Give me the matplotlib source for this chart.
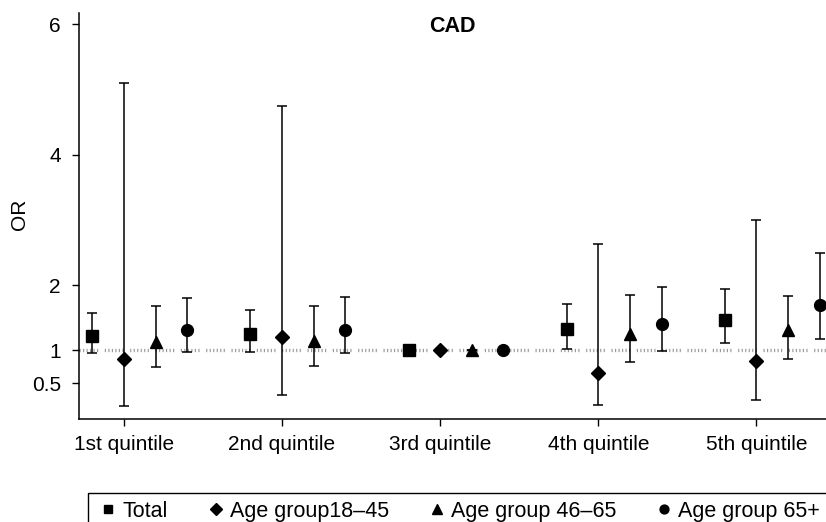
import matplotlib
matplotlib.use("Agg")
import matplotlib.pyplot as plt
import numpy as np
from matplotlib.lines import Line2D

plt.rcParams["font.family"] = ["Liberation Sans", "DejaVu Sans"]

# --- data ---
quintiles = ["1st quintile", "2nd quintile", "3rd quintile", "4th quintile", "5th quintile"]
groups = ["Total", "Age group18\u201345", "Age group 46\u201365", "Age group 65+"]

or_total = [1.22, 1.25, 1.0, 1.33, 1.47]
lo_total = [0.96, 0.98, 1.0, 1.03, 1.11]
hi_total = [1.58, 1.62, 1.0, 1.71, 1.94]

or_young = [0.87, 1.20, 1.0, 0.65, 0.84]
lo_young = [0.15, 0.32, 1.0, 0.17, 0.24]
hi_young = [5.10, 4.75, 1.0, 2.63, 3.00]

or_mid = [1.13, 1.14, 1.0, 1.25, 1.32]
lo_mid = [0.74, 0.76, 1.0, 0.82, 0.87]
hi_mid = [1.68, 1.68, 1.0, 1.85, 1.84]

or_old = [1.32, 1.32, 1.0, 1.40, 1.70]
lo_old = [0.97, 0.96, 1.0, 0.99, 1.18]
hi_old = [1.80, 1.82, 1.0, 1.97, 2.49]

series = [
    (or_total, lo_total, hi_total, "s", 8, -0.2),
    (or_young, lo_young, hi_young, "D", 7.5, 0.0),
    (or_mid, lo_mid, hi_mid, "^", 9, 0.2),
    (or_old, lo_old, hi_old, "o", 8.5, 0.4),
]

fig = plt.figure(figsize=(8.26, 5.22), dpi=100)
ax = fig.add_axes([79 / 826, 1 - 419 / 522, 1 - 79 / 826, (419 - 13) / 522])

x = np.arange(1, len(quintiles) + 1)

# reference line at OR = 1 (grouped fine dots, like the original)
dots = (0.35, 0.7) * 6
ax.axhline(1, color="#999999", linewidth=2.4,
           linestyle=(0, dots[:-1] + (2.0,)), zorder=1)

for vals, lo, hi, marker, ms, off in series:
    vals = np.array(vals)
    err = np.vstack([vals - np.array(lo), np.array(hi) - vals])
    ax.errorbar(x + off, vals, yerr=err, fmt=marker, color="black", ms=ms,
                ecolor="black", elinewidth=1.1, capsize=3.5, capthick=1.1, zorder=3)

ax.set_xlim(0.716, 5.44)
ax.set_ylim(-0.05, 6.17)
ax.set_xticks(x)
ax.set_xticklabels(quintiles)
ax.set_yticks([0.5, 1, 2, 4, 6])
ax.set_yticklabels(["0.5", "1", "2", "4", "6"])
ax.tick_params(axis="both", direction="out", length=5, width=1, labelsize=15)
ax.tick_params(axis="x", pad=6.5)
ax.tick_params(axis="y", pad=8)
for s in ["top", "right"]:
    ax.spines[s].set_visible(False)
for s in ["left", "bottom"]:
    ax.spines[s].set_linewidth(1.1)

fig.text(20 / 826, 1 - 214 / 522, "OR", rotation=90, ha="center", va="center", fontsize=15)
ax.text(0.5, 1 - 14 / 406, "CAD", transform=ax.transAxes, ha="center", va="center",
        fontsize=15.5, fontweight="bold")

handles = [Line2D([], [], linestyle="none", marker=m, color="black", ms=s * 0.75)
           for (_, _, _, m, s, _) in series]
fig.legend(handles, groups, loc="upper left", bbox_to_anchor=(88 / 826, 1 - 493 / 522),
           ncol=4, frameon=True, fancybox=False, edgecolor="black", fontsize=15.5,
           handlelength=1.2, handletextpad=0.05, columnspacing=1.62, borderaxespad=0,
           borderpad=0.35, framealpha=1)

fig.savefig("out.png", dpi=100)
